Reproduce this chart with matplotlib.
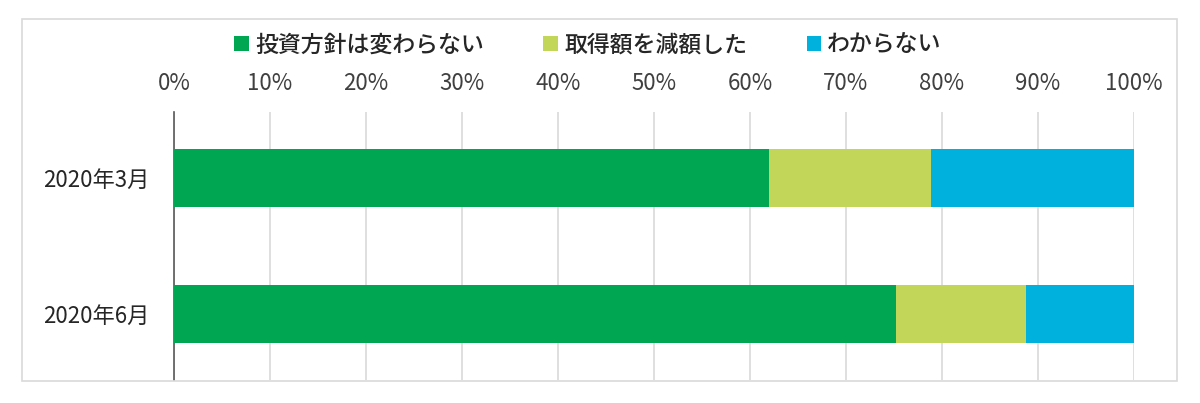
import matplotlib.pyplot as plt
from matplotlib.patches import Rectangle
from matplotlib.ticker import PercentFormatter

plt.rcParams['font.family'] = ['Noto Sans CJK JP', 'DejaVu Sans']

# Data
categories = ["2020年3月", "2020年6月"]
series_names = ["投資方針は変わらない", "取得額を減額した", "わからない"]
unchanged = [62.0, 75.2]
reduced = [16.9, 13.5]
unknown = [21.1, 11.3]
colors = ["#00a651", "#c2d65a", "#00b0dd"]
x_ticks = [0, 10, 20, 30, 40, 50, 60, 70, 80, 90, 100]

fig = plt.figure(figsize=(12, 4.03), dpi=100)
ax = fig.add_axes([0.145, 0.057, 0.8, 0.665])

# outer frame around the chart
fig.patches.append(Rectangle((0.018, 0.055), 0.963, 0.898, transform=fig.transFigure,
                             fill=False, edgecolor="#d9d9d9", linewidth=1.2))

y = list(range(len(categories)))
left = [0.0] * len(categories)
for vals, name, col in zip([unchanged, reduced, unknown], series_names, colors):
    ax.barh(y, vals, left=left, height=0.43, color=col, label=name, zorder=3)
    left = [a + b for a, b in zip(left, vals)]

ax.set_xlim(0, 100)
ax.set_ylim(1.49, -0.49)
ax.set_xticks(x_ticks)
ax.xaxis.set_major_formatter(PercentFormatter(decimals=0))
ax.xaxis.tick_top()
ax.set_yticks(y)
ax.set_yticklabels(categories)
ax.tick_params(axis='x', length=0, pad=12, labelsize=16, labelcolor="#404040")
ax.tick_params(axis='y', length=0, pad=18, labelsize=16, labelcolor="#262626")

ax.grid(axis='x', color="#d9d9d9", linewidth=1.2, zorder=0)
for side in ["top", "right", "bottom"]:
    ax.spines[side].set_visible(False)
ax.spines["left"].set_color("#595959")
ax.spines["left"].set_linewidth(1.2)

handles, labels = ax.get_legend_handles_labels()
leg = fig.legend(handles, labels, loc="center", bbox_to_anchor=(0.49, 0.888), ncol=3,
                 frameon=False, fontsize=16.5, handlelength=0.65, handleheight=0.65,
                 handletextpad=0.25, columnspacing=2.6)
for t in leg.get_texts():
    t.set_fontweight("medium")
    t.set_color("#262626")

fig.savefig("out.png", dpi=100)
